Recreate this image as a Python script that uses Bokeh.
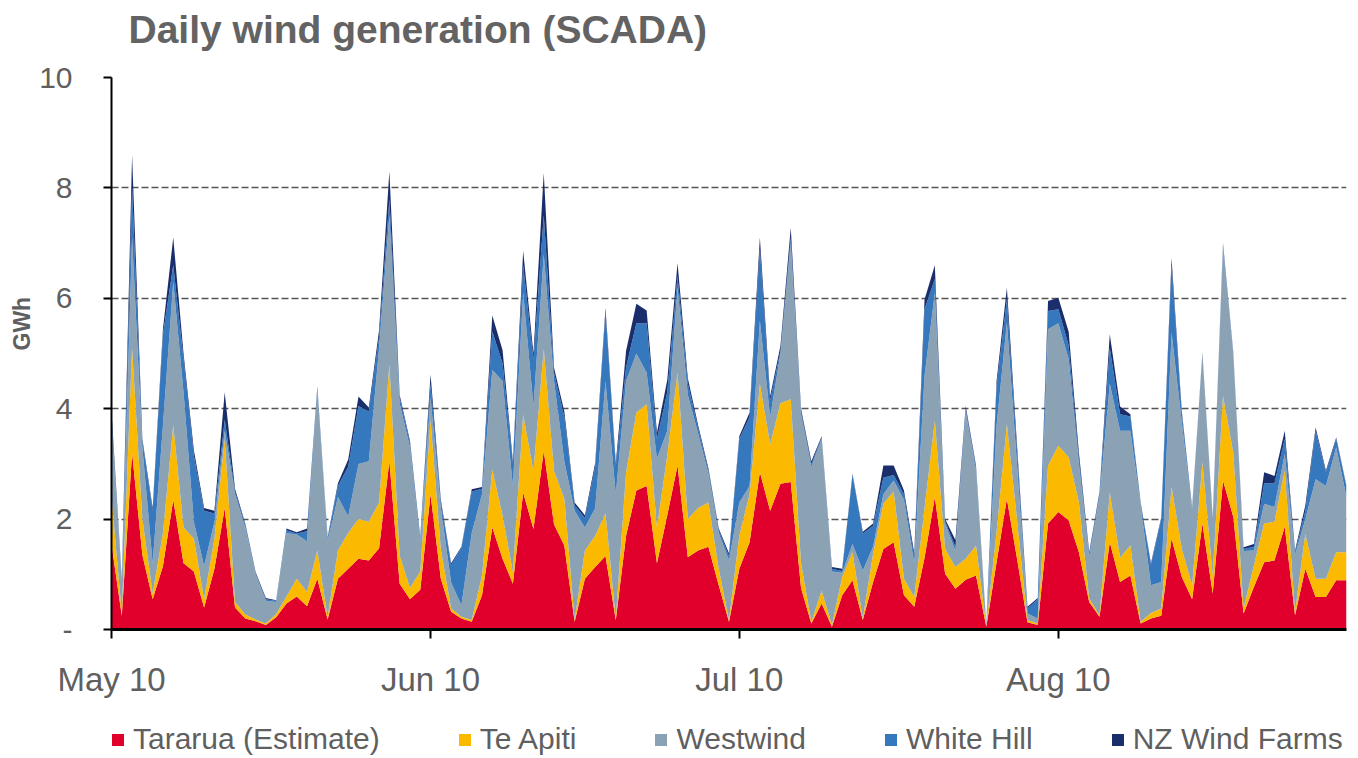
import pandas as pd
from bokeh.plotting import figure
from bokeh.layouts import column
from bokeh.models import (ColumnDataSource, Range1d, FixedTicker, MonthsTicker,
                          DatetimeTickFormatter, Legend, LegendItem, Label, Title)
from bokeh.embed import file_html
from bokeh.resources import INLINE

# ---- data (GWh per day, from 1 May 2010) ----
start_date = "2010-05-01"

tararua = [1.55, 0.25, 3.20, 1.35, 0.55, 1.15, 2.35, 1.20, 1.05, 0.40,
           1.10, 2.20, 0.40, 0.20, 0.15, 0.08, 0.22, 0.47, 0.60, 0.42,
           0.92, 0.18, 0.92, 1.10, 1.28, 1.25, 1.47, 3.05, 0.83, 0.55,
           0.72, 2.45, 0.92, 0.32, 0.20, 0.14, 0.62, 1.85, 1.28, 0.83,
           2.48, 1.82, 3.24, 1.90, 1.52, 0.14, 0.92, 1.13, 1.33, 0.17,
           1.70, 2.52, 2.60, 1.20, 2.07, 2.97, 1.31, 1.43, 1.50, 0.80,
           0.14, 1.10, 1.58, 2.85, 2.15, 2.64, 2.67, 0.75, 0.11, 0.47,
           0.05, 0.62, 0.89, 0.17, 0.86, 1.46, 1.58, 0.62, 0.41, 1.30,
           2.40, 1.01, 0.74, 0.90, 0.98, 0.05, 1.22, 2.37, 1.27, 0.13,
           0.08, 1.92, 2.13, 1.98, 1.40, 0.50, 0.23, 1.58, 0.86, 0.98,
           0.11, 0.20, 0.25, 1.65, 0.95, 0.55, 1.92, 0.65, 2.70, 2.04,
           0.29, 0.77, 1.22, 1.25, 1.86, 0.26, 1.10, 0.59, 0.59, 0.89,
           0.89]

te_apiti = [0.85, 0.05, 1.90, 0.65, 0.10, 0.60, 1.35, 0.65, 0.60, 0.15,
            0.55, 1.25, 0.10, 0.07, 0.03, 0.03, 0.06, 0.13, 0.32, 0.26,
            0.51, 0.04, 0.51, 0.65, 0.72, 0.70, 0.83, 1.75, 0.51, 0.20,
            0.33, 1.35, 0.53, 0.06, 0.03, 0.03, 0.36, 1.05, 0.78, 0.21,
            1.41, 1.05, 1.84, 0.97, 0.85, 0.03, 0.51, 0.57, 0.77, 0.03,
            1.15, 1.41, 1.48, 0.65, 1.08, 1.68, 0.69, 0.77, 0.80, 0.30,
            0.03, 0.60, 0.87, 1.60, 1.20, 1.46, 1.50, 0.45, 0.03, 0.23,
            0.03, 0.33, 0.51, 0.03, 0.51, 0.82, 0.92, 0.30, 0.18, 0.90,
            1.38, 0.45, 0.39, 0.38, 0.54, 0.02, 0.55, 1.35, 0.69, 0.04,
            0.03, 1.05, 1.20, 1.14, 0.90, 0.06, 0.03, 0.90, 0.44, 0.54,
            0.03, 0.10, 0.13, 0.93, 0.51, 0.25, 1.11, 0.33, 1.53, 1.16,
            0.09, 0.39, 0.70, 0.70, 1.02, 0.06, 0.63, 0.33, 0.33, 0.51,
            0.51]

westwind = [1.35, 0.55, 2.00, 1.30, 0.55, 1.95, 2.60, 2.45, 0.30, 0.60,
            0.30, 0.15, 1.95, 1.58, 0.82, 0.41, 0.22, 1.15, 0.80, 0.92,
            2.90, 1.38, 0.97, 0.30, 1.00, 1.10, 2.80, 2.70, 2.76, 2.55,
            0.55, 0.40, 0.75, 0.47, 0.21, 1.58, 1.47, 1.80, 2.44, 1.56,
            2.21, 1.18, 1.72, 1.63, 0.68, 1.98, 0.42, 0.50, 2.40, 2.25,
            1.65, 1.07, 0.57, 1.25, 0.45, 1.55, 2.25, 1.35, 0.52, 0.65,
            1.08, 0.60, 0.15, 1.15, 0.50, 0.90, 2.83, 2.70, 2.81, 2.75,
            0.97, 0.08, 0.15, 0.87, 0.13, 0.17, 0.20, 1.43, 0.61, 2.40,
            2.32, 0.46, 0.29, 2.67, 1.36, 0.01, 1.93, 1.84, 0.99, 0.12,
            0.09, 2.47, 2.22, 1.78, 0.70, 0.76, 2.14, 1.97, 2.30, 2.08,
            2.11, 0.50, 0.48, 2.80, 2.29, 1.37, 1.95, 1.00, 2.69, 1.78,
            1.04, 0.27, 0.36, 0.27, 0.30, 1.03, 0.27, 1.80, 1.68, 1.90,
            1.00]

white_hill = [0.10, 0.05, 0.90, 0.10, 0.95, 1.65, 0.30, 0.60, 1.20, 1.00,
              0.15, 0.20, 0.05, 0.05, 0.02, 0.03, 0.02, 0.05, 0.02, 0.18,
              0.04, 0.05, 0.20, 0.90, 1.05, 0.90, 0.20, 0.30, 0.10, 0.08,
              0.05, 0.25, 0.10, 0.32, 1.04, 0.75, 0.10, 0.70, 0.32, 0.40,
              0.50, 0.83, 0.70, 0.15, 0.80, 0.10, 0.17, 0.75, 1.25, 0.50,
              0.25, 0.55, 0.90, 0.35, 0.70, 0.20, 0.20, 0.10, 0.06, 0.05,
              0.08, 1.15, 1.25, 1.30, 0.30, 0.05, 0.10, 0.05, 0.05, 0.03,
              0.05, 0.03, 1.25, 0.67, 0.38, 0.30, 0.10, 0.10, 0.10, 1.20,
              0.25, 0.04, 0.08, 0.05, 0.05, 0.01, 0.70, 0.42, 0.24, 0.09,
              0.35, 0.33, 0.25, 0.25, 0.10, 0.04, 0.05, 0.65, 0.30, 0.26,
              0.03, 0.37, 1.14, 1.22, 0.15, 0.02, 0.02, 0.02, 0.05, 0.02,
              0.04, 0.07, 0.37, 0.43, 0.27, 0.05, 0.15, 0.88, 0.25, 0.15,
              0.18]

nz_wind_farms = [0.10, 0.02, 0.60, 0.05, 0.05, 0.10, 0.50, 0.10, 0.10, 0.05,
                 0.05, 0.50, 0.05, 0.02, 0.02, 0.02, 0.01, 0.03, 0.02, 0.05,
                 0.03, 0.02, 0.05, 0.13, 0.17, 0.07, 0.12, 0.50, 0.05, 0.04,
                 0.03, 0.17, 0.05, 0.03, 0.02, 0.04, 0.03, 0.29, 0.24, 0.05,
                 0.26, 0.12, 0.77, 0.09, 0.10, 0.05, 0.05, 0.07, 0.08, 0.07,
                 0.30, 0.35, 0.23, 0.12, 0.22, 0.24, 0.10, 0.05, 0.04, 0.03,
                 0.05, 0.05, 0.08, 0.20, 0.08, 0.09, 0.18, 0.05, 0.05, 0.02,
                 0.03, 0.04, 0.02, 0.03, 0.04, 0.22, 0.17, 0.07, 0.08, 0.18,
                 0.25, 0.04, 0.12, 0.05, 0.04, 0.01, 0.10, 0.21, 0.11, 0.03,
                 0.02, 0.18, 0.21, 0.25, 0.10, 0.04, 0.04, 0.25, 0.14, 0.04,
                 0.02, 0.03, 0.03, 0.13, 0.05, 0.02, 0.02, 0.02, 0.03, 0.02,
                 0.03, 0.05, 0.20, 0.13, 0.15, 0.03, 0.10, 0.06, 0.03, 0.03,
                 0.02]

series_keys = ["tararua", "te_apiti", "westwind", "white_hill", "nz_wind_farms"]
series_names = ["Tararua (Estimate)", "Te Apiti", "Westwind", "White Hill", "NZ Wind Farms"]
series_colors = ["#E1002B", "#FBBA00", "#8BA2B5", "#3578BE", "#1A2E6C"]

title_text = "Daily wind generation (SCADA)"
y_axis_title = "GWh"
y_ticks = [0, 2, 4, 6, 8, 10]
y_tick_labels = ["-", "2", "4", "6", "8", "10"]

# ---- build ----
dates = pd.date_range(start_date, periods=len(tararua), freq="D")
source = ColumnDataSource(dict(date=dates, tararua=tararua, te_apiti=te_apiti,
                               westwind=westwind, white_hill=white_hill,
                               nz_wind_farms=nz_wind_farms))

FONT = "Liberation Sans"
GREY_TXT = "#5f5f5f"
W = 1358
H_HEAD, H_MAIN, H_LEG = 56, 644, 58


def bare_figure(height):
    f = figure(width=W, height=height, output_backend="svg", toolbar_location=None,
               x_axis_location=None, y_axis_location=None,
               x_range=Range1d(0, 1), y_range=Range1d(0, 1),
               min_border=0, min_border_left=0, min_border_right=0,
               min_border_top=0, min_border_bottom=0)
    f.outline_line_color = None
    f.grid.visible = False
    return f


# header with title (frame is aligned with the main frame, left edge at x=111)
head = bare_figure(H_HEAD)
head.add_layout(Label(x=17, y=27, x_units="screen", y_units="screen",
                      text=title_text, text_font=FONT, text_font_size="39px",
                      text_font_style="bold", text_color="#636363",
                      text_baseline="alphabetic", text_align="left"))

# main chart
p = figure(width=W, height=H_MAIN, x_axis_type="datetime",
           output_backend="svg", toolbar_location=None,
           x_range=Range1d(dates[0], dates[-1]), y_range=Range1d(0, 10),
           min_border_left=111, min_border_right=12,
           min_border_top=21, min_border_bottom=69)
p.outline_line_color = None
p.background_fill_color = "white"

renderers = p.varea_stack(stackers=series_keys, x="date", color=series_colors,
                          source=source)

p.xgrid.grid_line_color = None
p.ygrid.ticker = FixedTicker(ticks=y_ticks[1:])
p.ygrid.grid_line_color = "#555555"
p.ygrid.grid_line_dash = "7 3"
p.ygrid.grid_line_width = 1.7

ya = p.yaxis[0]
ya.ticker = FixedTicker(ticks=y_ticks)
ya.major_label_overrides = {t: l for t, l in zip(y_ticks, y_tick_labels)}
ya.major_label_text_font = FONT
ya.major_label_text_font_size = "30px"
ya.major_label_text_color = GREY_TXT
ya.major_label_standoff = 31
ya.axis_line_color = "black"
ya.axis_line_width = 2
ya.major_tick_line_color = "black"
ya.major_tick_line_width = 2
ya.major_tick_out = 8
ya.major_tick_in = 0
ya.minor_tick_line_color = None

# y-axis title, placed a little above the frame centre as in the original
p.add_layout(Title(text=y_axis_title, align="left", offset=279, standoff=4,
                   text_font=FONT, text_font_size="23px", text_font_style="bold",
                   text_color=GREY_TXT), "left")

xa = p.xaxis[0]
xa.ticker = MonthsTicker(months=list(range(12)))
xa.formatter = DatetimeTickFormatter(months="%b %y", days="%b %y", years="%b %y")
xa.major_label_text_font = FONT
xa.major_label_text_font_size = "33px"
xa.major_label_text_color = GREY_TXT
xa.major_label_standoff = 22
xa.axis_line_color = "black"
xa.axis_line_width = 3
xa.major_tick_line_color = "black"
xa.major_tick_line_width = 2
xa.major_tick_out = 9
xa.major_tick_in = 0
xa.minor_tick_line_color = None

# legend strip (frame aligned with main frame)
leg = bare_figure(H_LEG)
leg_renderers = leg.varea_stack(stackers=series_keys, x="date", color=series_colors,
                                source=source, visible=False)
legend = Legend(items=[LegendItem(label=n, renderers=[r])
                       for n, r in zip(series_names, leg_renderers)],
                orientation="horizontal", location=(-1, 2),
                glyph_width=15, glyph_height=15, label_standoff=8, spacing=77,
                padding=0, margin=0, border_line_color=None,
                background_fill_alpha=0,
                label_text_font=FONT, label_text_font_size="30px",
                label_text_color=GREY_TXT)
leg.add_layout(legend)

layout = column(head, p, leg, spacing=0)
open("out.html", "w").write(file_html(layout, INLINE))
